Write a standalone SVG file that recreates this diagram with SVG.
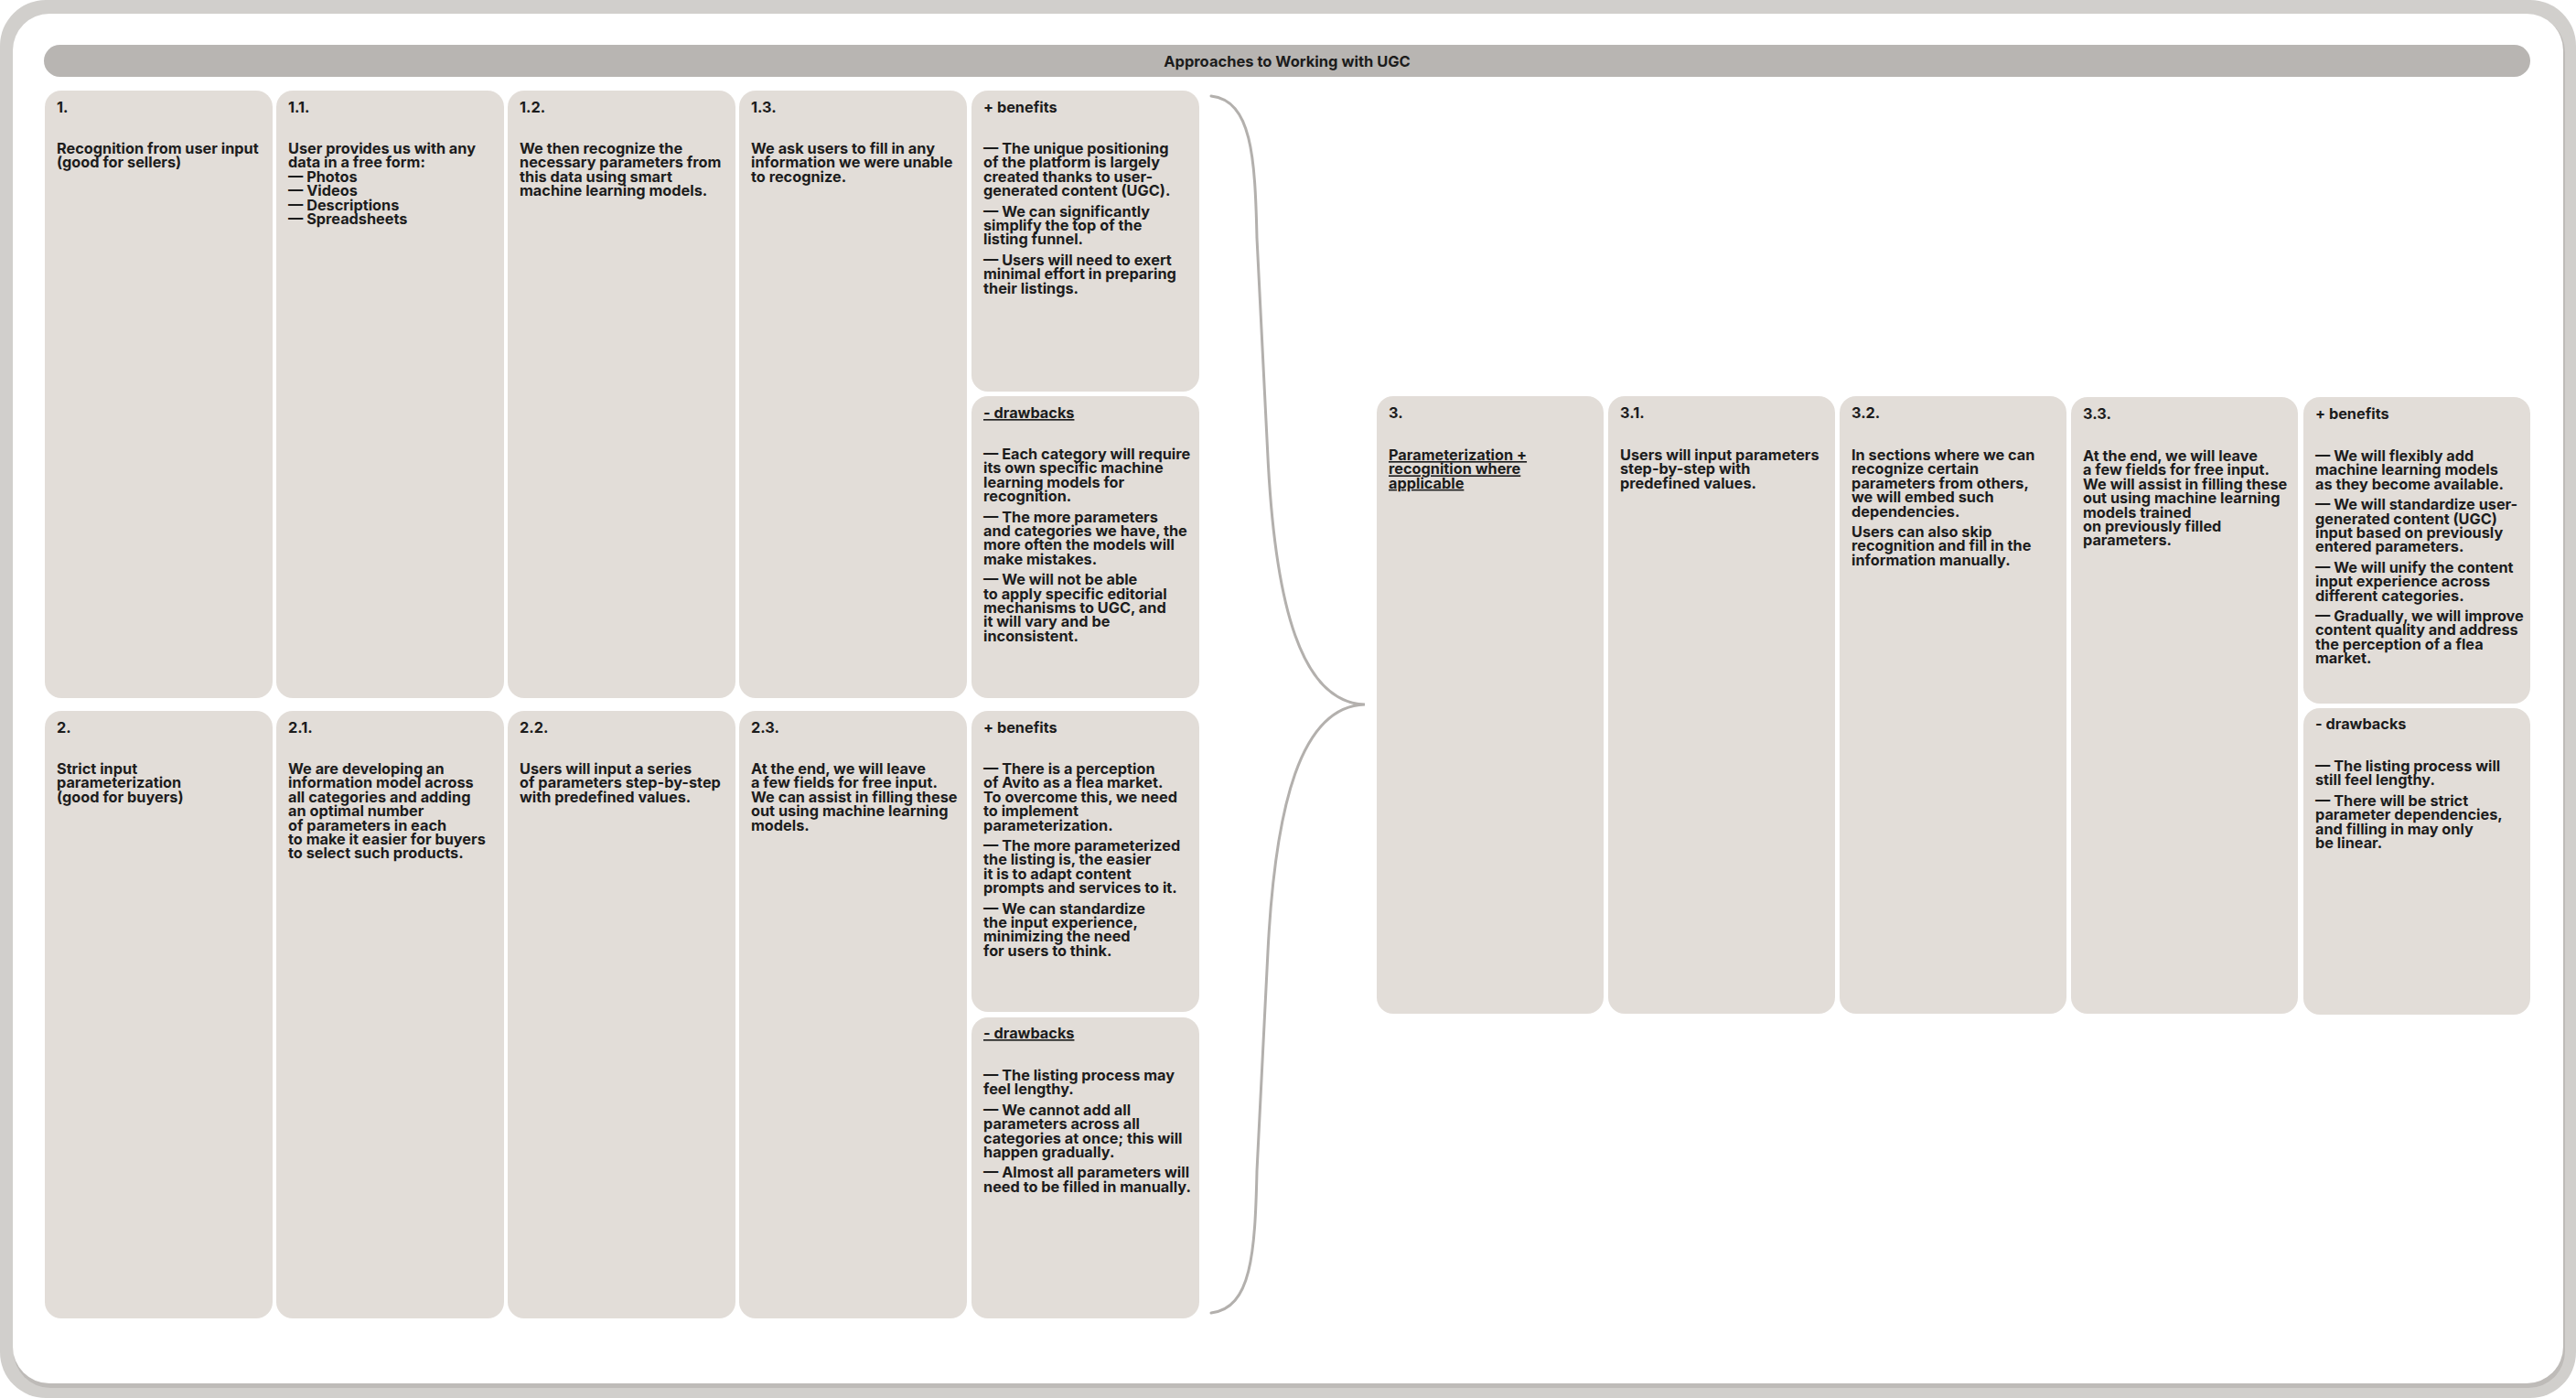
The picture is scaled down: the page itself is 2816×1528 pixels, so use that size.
<svg xmlns="http://www.w3.org/2000/svg" width="2816" height="1528" viewBox="0 0 2816 1528">
<style>
.card{fill:#e2ddd8}
.t{font-family:Inter,"Noto Sans","Liberation Sans",sans-serif;font-weight:650;font-size:16.3px;fill:#1c1c1c}
.h{font-family:Inter,"Noto Sans","Liberation Sans",sans-serif;font-weight:650;font-size:16.5px;fill:#1c1c1c}
.u{text-decoration:underline}
.brace{fill:none;stroke:#b3b0ad;stroke-width:3;stroke-linecap:round}
</style>
<rect x="0" y="0" width="2816" height="1528" fill="#ffffff"/>
<rect x="0" y="0" width="2816" height="1528" rx="50" fill="#d1cfcc"/>
<rect x="15" y="17" width="2789" height="1500" rx="40" fill="#bebbb8"/>
<rect x="14" y="15" width="2788" height="1497" rx="40" fill="#ffffff"/>

<g id="title">
<rect x="48" y="49" width="2718" height="35" rx="17.5" fill="#b8b5b2"/>
<text class="h" x="1407" y="73" text-anchor="middle">Approaches to Working with UGC</text>
</g>

<g id="n1">
<rect class="card" x="49" y="99" width="249" height="664" rx="18"/>
<text class="t" x="62" y="123">1.</text>
<text class="t" y="168"><tspan x="62">Recognition from user input</tspan><tspan x="62" dy="15.4">(good for sellers)</tspan></text>
</g>
<g id="n1_1">
<rect class="card" x="302" y="99" width="249" height="664" rx="18"/>
<text class="t" x="315" y="123">1.1.</text>
<text class="t" y="168"><tspan x="315">User provides us with any</tspan><tspan x="315" dy="15.4">data in a free form:</tspan><tspan x="315" dy="15.4">— Photos</tspan><tspan x="315" dy="15.4">— Videos</tspan><tspan x="315" dy="15.4">— Descriptions</tspan><tspan x="315" dy="15.4">— Spreadsheets</tspan></text>
</g>
<g id="n1_2">
<rect class="card" x="555" y="99" width="249" height="664" rx="18"/>
<text class="t" x="568" y="123">1.2.</text>
<text class="t" y="168"><tspan x="568">We then recognize the</tspan><tspan x="568" dy="15.4">necessary parameters from</tspan><tspan x="568" dy="15.4">this data using smart</tspan><tspan x="568" dy="15.4">machine learning models.</tspan></text>
</g>
<g id="n1_3">
<rect class="card" x="808" y="99" width="249" height="664" rx="18"/>
<text class="t" x="821" y="123">1.3.</text>
<text class="t" y="168"><tspan x="821">We ask users to fill in any</tspan><tspan x="821" dy="15.4">information we were unable</tspan><tspan x="821" dy="15.4">to recognize.</tspan></text>
</g>
<g id="n1_benefits">
<rect class="card" x="1062" y="99" width="249" height="329" rx="18"/>
<text class="t" x="1075" y="123">+ benefits</text>
<text class="t" y="168"><tspan x="1075">— The unique positioning</tspan><tspan x="1075" dy="15.4">of the platform is largely</tspan><tspan x="1075" dy="15.4">created thanks to user-</tspan><tspan x="1075" dy="15.4">generated content (UGC).</tspan><tspan x="1075" dy="22.4">— We can significantly</tspan><tspan x="1075" dy="15.4">simplify the top of the</tspan><tspan x="1075" dy="15.4">listing funnel.</tspan><tspan x="1075" dy="22.4">— Users will need to exert</tspan><tspan x="1075" dy="15.4">minimal effort in preparing</tspan><tspan x="1075" dy="15.4">their listings.</tspan></text>
</g>
<g id="n1_drawbacks">
<rect class="card" x="1062" y="433" width="249" height="330" rx="18"/>
<text class="t u" x="1075" y="457">- drawbacks</text>
<text class="t" y="502"><tspan x="1075">— Each category will require</tspan><tspan x="1075" dy="15.4">its own specific machine</tspan><tspan x="1075" dy="15.4">learning models for</tspan><tspan x="1075" dy="15.4">recognition.</tspan><tspan x="1075" dy="22.4">— The more parameters</tspan><tspan x="1075" dy="15.4">and categories we have, the</tspan><tspan x="1075" dy="15.4">more often the models will</tspan><tspan x="1075" dy="15.4">make mistakes.</tspan><tspan x="1075" dy="22.4">— We will not be able</tspan><tspan x="1075" dy="15.4">to apply specific editorial</tspan><tspan x="1075" dy="15.4">mechanisms to UGC, and</tspan><tspan x="1075" dy="15.4">it will vary and be</tspan><tspan x="1075" dy="15.4">inconsistent.</tspan></text>
</g>

<g id="n2">
<rect class="card" x="49" y="777" width="249" height="664" rx="18"/>
<text class="t" x="62" y="801">2.</text>
<text class="t" y="846"><tspan x="62">Strict input</tspan><tspan x="62" dy="15.4">parameterization</tspan><tspan x="62" dy="15.4">(good for buyers)</tspan></text>
</g>
<g id="n2_1">
<rect class="card" x="302" y="777" width="249" height="664" rx="18"/>
<text class="t" x="315" y="801">2.1.</text>
<text class="t" y="846"><tspan x="315">We are developing an</tspan><tspan x="315" dy="15.4">information model across</tspan><tspan x="315" dy="15.4">all categories and adding</tspan><tspan x="315" dy="15.4">an optimal number</tspan><tspan x="315" dy="15.4">of parameters in each</tspan><tspan x="315" dy="15.4">to make it easier for buyers</tspan><tspan x="315" dy="15.4">to select such products.</tspan></text>
</g>
<g id="n2_2">
<rect class="card" x="555" y="777" width="249" height="664" rx="18"/>
<text class="t" x="568" y="801">2.2.</text>
<text class="t" y="846"><tspan x="568">Users will input a series</tspan><tspan x="568" dy="15.4">of parameters step-by-step</tspan><tspan x="568" dy="15.4">with predefined values.</tspan></text>
</g>
<g id="n2_3">
<rect class="card" x="808" y="777" width="249" height="664" rx="18"/>
<text class="t" x="821" y="801">2.3.</text>
<text class="t" y="846"><tspan x="821">At the end, we will leave</tspan><tspan x="821" dy="15.4">a few fields for free input.</tspan><tspan x="821" dy="15.4">We can assist in filling these</tspan><tspan x="821" dy="15.4">out using machine learning</tspan><tspan x="821" dy="15.4">models.</tspan></text>
</g>
<g id="n2_benefits">
<rect class="card" x="1062" y="777" width="249" height="329" rx="18"/>
<text class="t" x="1075" y="801">+ benefits</text>
<text class="t" y="846"><tspan x="1075">— There is a perception</tspan><tspan x="1075" dy="15.4">of Avito as a flea market.</tspan><tspan x="1075" dy="15.4">To overcome this, we need</tspan><tspan x="1075" dy="15.4">to implement</tspan><tspan x="1075" dy="15.4">parameterization.</tspan><tspan x="1075" dy="22.4">— The more parameterized</tspan><tspan x="1075" dy="15.4">the listing is, the easier</tspan><tspan x="1075" dy="15.4">it is to adapt content</tspan><tspan x="1075" dy="15.4">prompts and services to it.</tspan><tspan x="1075" dy="22.4">— We can standardize</tspan><tspan x="1075" dy="15.4">the input experience,</tspan><tspan x="1075" dy="15.4">minimizing the need</tspan><tspan x="1075" dy="15.4">for users to think.</tspan></text>
</g>
<g id="n2_drawbacks">
<rect class="card" x="1062" y="1112" width="249" height="329" rx="18"/>
<text class="t u" x="1075" y="1135">- drawbacks</text>
<text class="t" y="1181"><tspan x="1075">— The listing process may</tspan><tspan x="1075" dy="15.4">feel lengthy.</tspan><tspan x="1075" dy="22.4">— We cannot add all</tspan><tspan x="1075" dy="15.4">parameters across all</tspan><tspan x="1075" dy="15.4">categories at once; this will</tspan><tspan x="1075" dy="15.4">happen gradually.</tspan><tspan x="1075" dy="22.4">— Almost all parameters will</tspan><tspan x="1075" dy="15.4">need to be filled in manually.</tspan></text>
</g>

<g id="n3">
<rect class="card" x="1505" y="433" width="248" height="675" rx="18"/>
<text class="t" x="1518" y="457">3.</text>
<text class="t u" y="503"><tspan x="1518">Parameterization +</tspan><tspan x="1518" dy="15.4">recognition where</tspan><tspan x="1518" dy="15.4">applicable</tspan></text>
</g>
<g id="n3_1">
<rect class="card" x="1758" y="433" width="248" height="675" rx="18"/>
<text class="t" x="1771" y="457">3.1.</text>
<text class="t" y="503"><tspan x="1771">Users will input parameters</tspan><tspan x="1771" dy="15.4">step-by-step with</tspan><tspan x="1771" dy="15.4">predefined values.</tspan></text>
</g>
<g id="n3_2">
<rect class="card" x="2011" y="433" width="248" height="675" rx="18"/>
<text class="t" x="2024" y="457">3.2.</text>
<text class="t" y="503"><tspan x="2024">In sections where we can</tspan><tspan x="2024" dy="15.4">recognize certain</tspan><tspan x="2024" dy="15.4">parameters from others,</tspan><tspan x="2024" dy="15.4">we will embed such</tspan><tspan x="2024" dy="15.4">dependencies.</tspan><tspan x="2024" dy="22.4">Users can also skip</tspan><tspan x="2024" dy="15.4">recognition and fill in the</tspan><tspan x="2024" dy="15.4">information manually.</tspan></text>
</g>
<g id="n3_3">
<rect class="card" x="2264" y="434" width="248" height="674" rx="18"/>
<text class="t" x="2277" y="458">3.3.</text>
<text class="t" y="504"><tspan x="2277">At the end, we will leave</tspan><tspan x="2277" dy="15.4">a few fields for free input.</tspan><tspan x="2277" dy="15.4">We will assist in filling these</tspan><tspan x="2277" dy="15.4">out using machine learning</tspan><tspan x="2277" dy="15.4">models trained</tspan><tspan x="2277" dy="15.4">on previously filled</tspan><tspan x="2277" dy="15.4">parameters.</tspan></text>
</g>
<g id="n3_benefits">
<rect class="card" x="2518" y="434" width="248" height="335" rx="18"/>
<text class="t" x="2531" y="458">+ benefits</text>
<text class="t" y="504"><tspan x="2531">— We will flexibly add</tspan><tspan x="2531" dy="15.4">machine learning models</tspan><tspan x="2531" dy="15.4">as they become available.</tspan><tspan x="2531" dy="22.4">— We will standardize user-</tspan><tspan x="2531" dy="15.4">generated content (UGC)</tspan><tspan x="2531" dy="15.4">input based on previously</tspan><tspan x="2531" dy="15.4">entered parameters.</tspan><tspan x="2531" dy="22.4">— We will unify the content</tspan><tspan x="2531" dy="15.4">input experience across</tspan><tspan x="2531" dy="15.4">different categories.</tspan><tspan x="2531" dy="22.4">— Gradually, we will improve</tspan><tspan x="2531" dy="15.4">content quality and address</tspan><tspan x="2531" dy="15.4">the perception of a flea</tspan><tspan x="2531" dy="15.4">market.</tspan></text>
</g>
<g id="n3_drawbacks">
<rect class="card" x="2518" y="774" width="248" height="335" rx="18"/>
<text class="t" x="2531" y="797">- drawbacks</text>
<text class="t" y="843"><tspan x="2531">— The listing process will</tspan><tspan x="2531" dy="15.4">still feel lengthy.</tspan><tspan x="2531" dy="22.4">— There will be strict</tspan><tspan x="2531" dy="15.4">parameter dependencies,</tspan><tspan x="2531" dy="15.4">and filling in may only</tspan><tspan x="2531" dy="15.4">be linear.</tspan></text>
</g>

<g id="connectors">
<path class="brace" d="M1324,105 C1368,110 1372,170 1374,260 L1386,500 C1394,660 1422,768 1492,770 C1422,772 1394,880 1386,1040 L1374,1280 C1372,1370 1368,1430 1324,1435"/>
</g>
</svg>
